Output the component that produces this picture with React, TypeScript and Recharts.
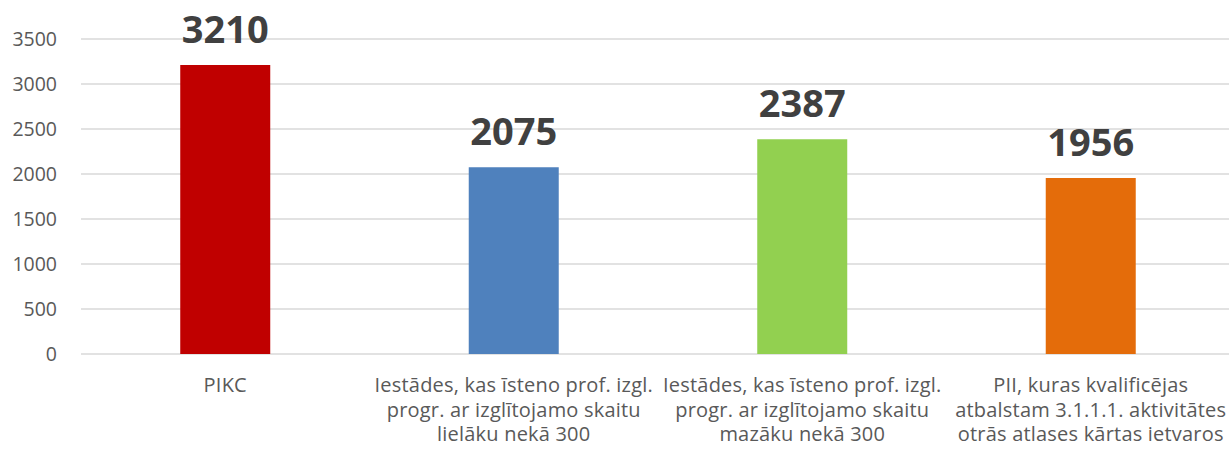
import React from "react";
import {
  BarChart,
  Bar,
  XAxis,
  YAxis,
  CartesianGrid,
  Cell,
  LabelList,
} from "recharts";

const categories = [
  "PIKC",
  "Iestādes, kas īsteno prof. izgl. progr. ar izglītojamo skaitu lielāku nekā 300",
  "Iestādes, kas īsteno prof. izgl. progr.  ar izglītojamo skaitu mazāku nekā 300",
  "PII, kuras kvalificējas atbalstam 3.1.1.1. aktivitātes otrās atlases kārtas ietvaros",
];

const categoryLines: string[][] = [
  ["PIKC"],
  ["Iestādes, kas īsteno prof. izgl.", "progr. ar izglītojamo skaitu", "lielāku nekā 300"],
  ["Iestādes, kas īsteno prof. izgl.", "progr.  ar izglītojamo skaitu", "mazāku nekā 300"],
  ["PII, kuras kvalificējas", "atbalstam 3.1.1.1. aktivitātes", "otrās atlases kārtas ietvaros"],
];

const values = [3210, 2075, 2387, 1956];
const barColors = ["#C00000", "#4F81BD", "#92D050", "#E46C0A"];
const yTicks = [0, 500, 1000, 1500, 2000, 2500, 3000, 3500];

const data = categories.map((name, i) => ({ name, value: values[i] }));

const FONT = "'Open Sans', sans-serif";

const CategoryTick = (props: any) => {
  const { x, y, payload } = props;
  const lines = categoryLines[payload.index] ?? [payload.value];
  return (
    <text
      x={x}
      y={y}
      textAnchor="middle"
      fill="#595959"
      fontSize={20}
      letterSpacing={0.2}
      fontFamily={FONT}
    >
      {lines.map((line, i) => (
        <tspan key={i} x={x} dy={i === 0 ? 30 : 24.5}>
          {line}
        </tspan>
      ))}
    </text>
  );
};

export default function App() {
  return (
    <div
      style={{
        position: "absolute",
        left: 0,
        top: 0,
        width: 1229,
        height: 453,
        overflow: "hidden",
        background: "#fff",
      }}
    >
      <BarChart
        width={1237}
        height={453}
        data={data}
        margin={{ top: 39, right: 2, left: 0, bottom: 0 }}
        barCategoryGap="34.4%"
      >
        <CartesianGrid vertical={false} stroke="#D9D9D9" strokeWidth={1.3} />
        <XAxis
          dataKey="name"
          axisLine={false}
          tickLine={false}
          interval={0}
          height={99}
          tick={<CategoryTick />}
        />
        <YAxis
          domain={[0, 3500]}
          ticks={yTicks}
          axisLine={false}
          tickLine={false}
          tickSize={0}
          tickMargin={24}
          width={81}
          tick={{ fill: "#595959", fontSize: 19.5, fontFamily: FONT }}
        />
        <Bar dataKey="value" isAnimationActive={false}>
          {data.map((_, i) => (
            <Cell key={i} fill={barColors[i]} />
          ))}
          <LabelList
            dataKey="value"
            position="top"
            offset={22}
            fill="#404040"
            fontSize={38}
            fontWeight={700}
            fontFamily={FONT}
          />
        </Bar>
      </BarChart>
    </div>
  );
}
